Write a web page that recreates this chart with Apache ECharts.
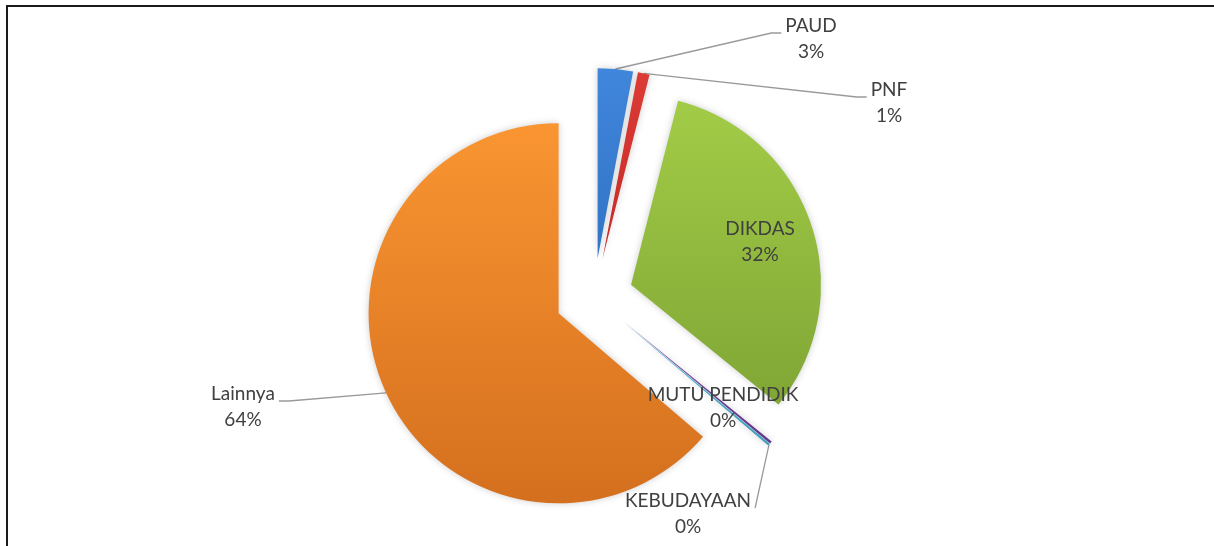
<!DOCTYPE html>
<html>
<head>
<meta charset="utf-8">
<script src="https://cdn.jsdelivr.net/npm/echarts@6/dist/echarts.min.js"></script>
<style>
  html, body { margin: 0; padding: 0; background: #fff; }
  .wrap { position: relative; width: 1214px; height: 546px; }
  #chart { width: 1214px; height: 546px; }
  .frame {
    position: absolute; left: 6px; top: 5px; right: 0; bottom: 0;
    border-top: 2px solid #1a1a1a; border-left: 2px solid #1a1a1a;
    pointer-events: none;
  }
</style>
</head>
<body>
<div class="wrap">
  <div id="chart"></div>
  <div class="frame"></div>
</div>
<script>
  // data (percent of total)
  var categories = ['PAUD', 'PNF', 'DIKDAS', 'MUTU PENDIDIK', 'KEBUDAYAAN', 'Lainnya'];
  var values = [3, 1, 32, 0.2, 0.2, 64];

  var CENTER = [594, 297];
  var RADIUS = 190;
  var EXPLODE = 39;

  // look of each slice: top / bottom of the gradient
  var sliceColors = {
    'PAUD': ['#4086da', '#3174c8'],
    'PNF': ['#dc3a35', '#c42b27'],
    'DIKDAS': ['#a2cc47', '#80a635'],
    'MUTU PENDIDIK': ['#7a4aa8', '#66398f'],
    'KEBUDAYAAN': ['#52b4cf', '#3f9fba'],
    'Lainnya': ['#fa9532', '#d46f1e']
  };
  // where each label sits (centre of the text block)
  var labelPos = {
    'PAUD': [811, 39],
    'PNF': [889, 103],
    'DIKDAS': [760, 242],
    'MUTU PENDIDIK': [723, 408],
    'KEBUDAYAAN': [688, 514],
    'Lainnya': [243, 407]
  };
  var noLine = {'DIKDAS': true, 'MUTU PENDIDIK': true};

  // mid angle of each slice, clockwise from 12 o'clock
  var total = values.reduce(function (a, b) { return a + b; }, 0);
  var acc = 0;
  var midAngles = values.map(function (v) {
    var a = (acc + v / 2) / total * Math.PI * 2;
    acc += v;
    return a;
  });

  function grad(c) {
    return new echarts.graphic.LinearGradient(0, 0, 0, 1, [
      {offset: 0, color: c[0]},
      {offset: 1, color: c[1]}
    ]);
  }

  var pieData = categories.map(function (name, i) {
    var item = {
      name: name,
      value: values[i],
      selected: true,
      itemStyle: {color: grad(sliceColors[name])}
    };
    if (name === 'DIKDAS') {
      item.label = {position: 'inside'};
    }
    if (noLine[name]) {
      item.labelLine = {show: false};
    }
    return item;
  });

  var chart = echarts.init(document.getElementById('chart'));
  chart.setOption({
    animation: false,
    series: [{
      type: 'pie',
      center: CENTER,
      radius: RADIUS,
      startAngle: 90,
      clockwise: true,
      selectedMode: 'multiple',
      selectedOffset: EXPLODE,
      avoidLabelOverlap: false,
      itemStyle: {
        borderWidth: 0,
        shadowBlur: 7,
        shadowColor: 'rgba(0,0,0,0.2)'
      },
      select: {itemStyle: {borderWidth: 0}},
      emphasis: {disabled: true},
      label: {
        show: true,
        formatter: function (p) {
          return '{t|' + p.name + '}\n{t|' + Math.round(p.percent) + '%}';
        },
        rich: {
          t: {
            align: 'center',
            fontFamily: 'Lato',
            fontSize: 19,
            lineHeight: 26,
            color: '#404040'
          }
        }
      },
      labelLine: {
        show: true,
        length: 10,
        length2: 10,
        lineStyle: {color: '#9a9a9a', width: 1.3}
      },
      labelLayout: function (params) {
        var i = params.dataIndex;
        var name = categories[i];
        var pos = labelPos[name];
        var r = params.labelRect;
        var a = midAngles[i];
        // the exploded slice carries its label and line along
        var ox = EXPLODE * Math.sin(a);
        var oy = -EXPLODE * Math.cos(a);
        var out = {
          dx: pos[0] - (r.x + r.width / 2 + ox),
          dy: pos[1] - (r.y + r.height / 2 + oy)
        };
        if (!noLine[name]) {
          var anchor = [
            CENTER[0] + RADIUS * Math.sin(a),
            CENTER[1] - RADIUS * Math.cos(a)
          ];
          var left = pos[0] - r.width / 2 - ox;
          var right = pos[0] + r.width / 2 - ox;
          var top = pos[1] - r.height / 2 - oy;
          var ly = pos[1] - 6 - oy;
          var end, elbow;
          if (top > anchor[1] + 20) {
            // label sits below its slice: straight line down to it
            end = [right + 4, ly];
            elbow = end;
          } else if (anchor[0] < left) {
            end = [left - 4, ly];
            elbow = [left - 14, ly];
          } else {
            end = [right + 4, ly];
            elbow = [right + 14, ly];
          }
          out.labelLinePoints = [anchor, elbow, end];
        }
        return out;
      },
      data: pieData
    }]
  });
</script>
</body>
</html>
